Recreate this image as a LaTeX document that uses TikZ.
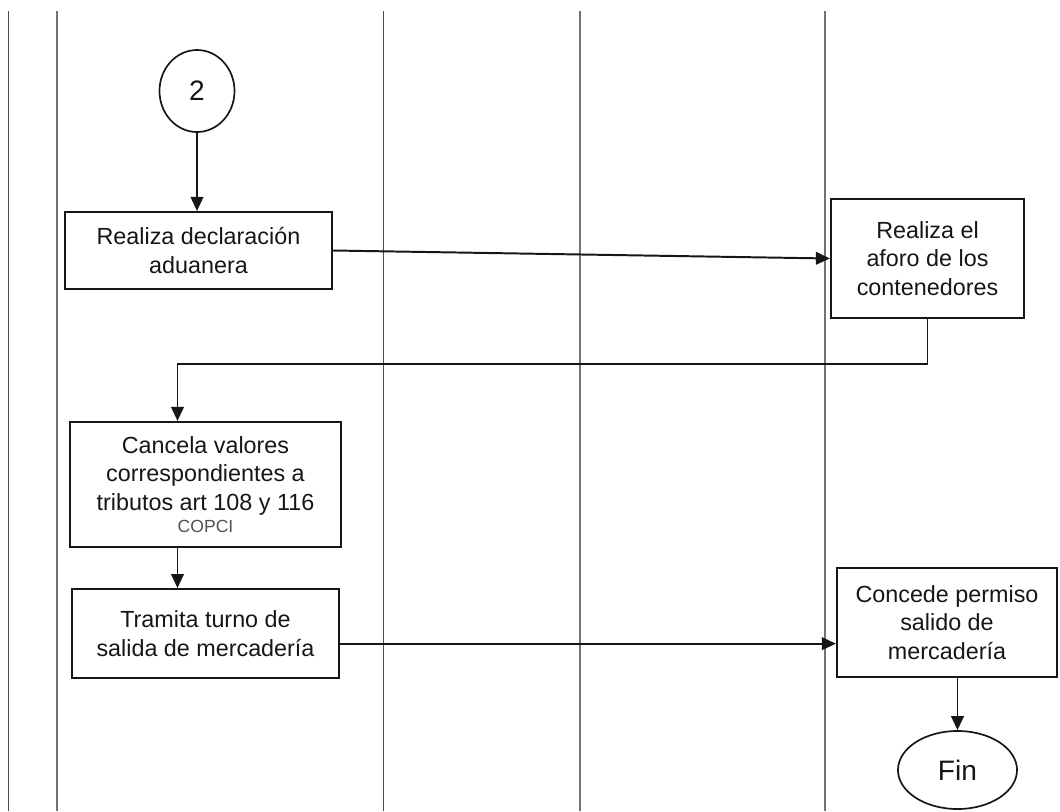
\documentclass[tikz,border=0pt]{standalone}
\usepackage{fontspec}
\setmainfont{Liberation Sans}
\usepackage{tikz}
\usetikzlibrary{
  shapes.geometric,
  arrows.meta,
  positioning, calc
}
\definecolor{laneGray}{RGB}{115,115,115}
\definecolor{inkDark}{RGB}{22,22,22}
\tikzset{
  procbox/.style={rectangle,draw=inkDark,line width=1.5pt,align=center,text=inkDark,
                  font=\fontsize{16.6}{20.5}\selectfont,inner sep=2pt},
  termnode/.style={ellipse,draw=inkDark,line width=1.2pt,text=inkDark,
                   font=\fontsize{20}{22}\selectfont,inner sep=0pt},
  arr/.style={-{Triangle[length=10pt,width=9pt]},line width=1.4pt,color=inkDark},
  lane/.style={draw=laneGray,line width=1.2pt},
  thinlane/.style={draw=laneGray!70!black,line width=0.7pt}
}

\begin{document}
\begin{tikzpicture}[x=0.025cm,y=-0.025cm]
  \useasboundingbox (0,0) rectangle (1060,811);

  % lane separators
  \foreach \lx in {57,580,825} \draw[lane] (\lx,11) -- (\lx,811);
  \foreach \lx in {8,383} \draw[thinlane] (\lx,11) -- (\lx,811);

  \node[termnode,minimum width=1.875cm,minimum height=2.05cm] (c2) at (197,91) {2};
  \node[procbox,minimum width=6.675cm,minimum height=1.925cm] (dec) at (198.5,250.5)
      {Realiza declaración\\aduanera};
  \node[procbox,minimum width=4.825cm,minimum height=2.975cm] (aforo) at (927.5,258.5)
      {Realiza el\\aforo de los\\contenedores};
  \node[procbox,minimum width=6.775cm,minimum height=3.125cm] (canc) at (205.5,484.5)
      {Cancela valores\\correspondientes a\\tributos art 108 y 116\\[-5pt]
       {\fontsize{12.5}{13}\selectfont\color{inkDark!75}COPCI}};
  \node[procbox,minimum width=6.675cm,minimum height=2.225cm,below=1cm of canc] (tram)
      {Tramita turno de\\salida de mercadería};
  \node[procbox,minimum width=5.5cm,minimum height=2.725cm] (conc) at (947,622.5)
      {Concede permiso\\salido de\\mercadería};
  \node[termnode,minimum width=2.975cm,minimum height=1.95cm] (fin) at (957.5,770) {Fin};

  \draw[arr] (c2.south) -- (c2.south |- dec.north);
  \draw[arr] (dec.east) -- (aforo.west);
  \draw[arr] (aforo.south) -- ++(0,45) -| ([xshift=-0.7cm]canc.north);
  \draw[arr] ([xshift=-0.7cm]canc.south) coordinate (c3) -- (c3 |- tram.north);
  \draw[arr] ([yshift=-0.25cm]tram.east) coordinate (t1) -- (t1 -| conc.west);
  \draw[arr] (fin.north |- conc.south) -- (fin.north);
\end{tikzpicture}
\end{document}
